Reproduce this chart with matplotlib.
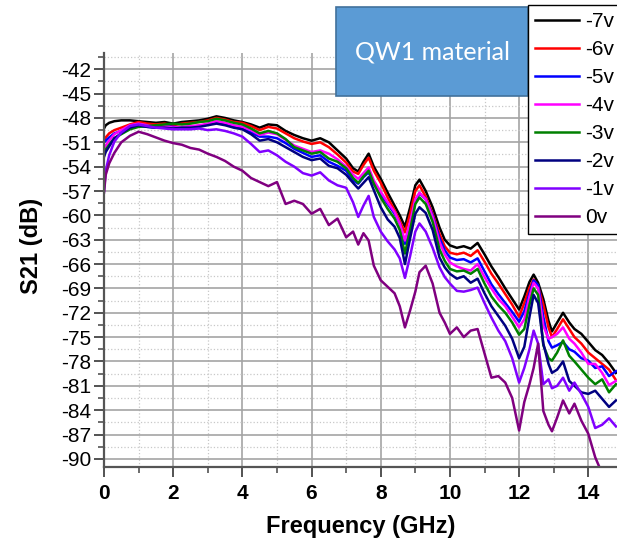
import numpy as np
import matplotlib
matplotlib.use("Agg")
from matplotlib import pyplot as plt
from matplotlib.ticker import MultipleLocator
from matplotlib.patches import Rectangle

plt.rcParams['font.family'] = ['Liberation Sans', 'DejaVu Sans']
plt.rcParams['axes.unicode_minus'] = False

# frequency points (GHz)
freq = [0, 0.05, 0.15, 0.3, 0.5,
        0.75, 1.0, 1.25, 1.5, 1.75, 2.0, 2.25, 2.5, 2.75, 3.0, 3.25, 3.5, 3.75,
        4.0, 4.25, 4.5, 4.75, 5.0, 5.25, 5.5, 5.75, 6.0, 6.25, 6.5, 6.75, 7.0,
        7.2, 7.35, 7.5, 7.65, 7.8,
        8.0, 8.2, 8.4, 8.55, 8.7, 8.85, 9.0, 9.12, 9.3, 9.5, 9.7, 9.85,
        10.0, 10.2, 10.4, 10.6, 10.8, 11.0, 11.2, 11.4, 11.6, 11.8,
        12.0, 12.15, 12.3, 12.42, 12.55, 12.7, 12.85, 12.95,
        13.1, 13.27, 13.45, 13.6, 13.8, 14.0, 14.2, 14.4, 14.6, 14.8]

s21_m7 = [-49.3, -48.9, -48.6, -48.4, -48.3,
          -48.3, -48.4, -48.5, -48.6, -48.5, -48.7, -48.5, -48.4, -48.3, -48.1, -47.8, -48.0, -48.3,
          -48.5, -48.8, -49.2, -48.8, -48.9, -49.6, -50.1, -50.5, -50.8, -50.5, -51.0, -52.0, -53.0,
          -54.2, -54.6, -53.4, -52.4, -54.0,
          -55.5, -57.2, -58.8, -60.0, -61.4, -59.0, -56.3, -55.6, -57.0, -59.0, -61.5, -63.0,
          -63.7, -64.0, -63.8, -64.1, -63.4, -64.8, -66.3, -67.6, -69.0, -70.3,
          -71.6, -70.0, -68.2, -67.3, -68.3, -70.3, -73.0, -74.3,
          -73.2, -72.0, -73.2, -74.0, -74.6, -75.6, -76.6, -77.2, -78.2, -79.4]

s21_m6 = [-51.0, -50.4, -49.9, -49.5, -49.2,
          -48.8, -48.5, -48.7, -48.8, -48.7, -48.9, -48.7, -48.6, -48.5, -48.3, -48.0, -48.2, -48.5,
          -48.6, -49.0, -49.5, -49.1, -49.3, -49.9, -50.5, -50.9, -51.2, -51.0, -51.6, -52.5, -53.5,
          -54.6, -54.9, -53.8, -52.9, -54.5,
          -56.0, -57.8, -59.4, -60.7, -62.1, -59.8, -57.0, -56.3, -57.7, -59.8, -62.3, -63.8,
          -64.6, -64.8, -64.6, -65.0, -64.3, -65.7, -67.2, -68.4, -69.7, -71.0,
          -72.5, -70.8, -68.9, -67.9, -68.8, -71.0, -73.8, -75.0,
          -74.0, -72.8, -74.0, -75.0, -75.8, -76.9, -77.6, -78.3, -79.0, -80.3]

s21_m5 = [-51.0, -50.8, -50.4, -49.9, -49.6,
          -49.2, -49.0, -49.1, -49.2, -49.0, -49.1, -49.2, -49.1, -49.0, -48.8, -48.5, -48.7, -49.0,
          -49.3, -49.8, -50.3, -50.3, -50.5, -51.1, -51.8, -52.3, -52.8, -52.6, -53.4, -53.9, -54.5,
          -55.7, -56.1, -55.3, -54.7, -56.1,
          -57.4, -58.6, -59.8, -61.0, -63.5, -61.2, -58.2, -57.3, -58.0, -60.0, -62.8, -64.3,
          -65.2, -65.5, -65.4, -65.8, -65.3, -66.9, -68.5, -69.7, -70.8, -71.9,
          -73.1, -71.8, -69.6, -68.0, -68.6, -72.5, -75.5, -76.3,
          -76.0, -75.6, -76.5, -76.8, -77.6, -77.9, -78.8, -78.6, -79.8, -79.2]

s21_m4 = [-51.8, -51.4, -50.8, -50.0, -49.5,
          -48.9, -48.7, -48.9, -49.1, -49.0, -49.2, -49.1, -49.0, -48.9, -48.7, -48.4, -48.6, -48.9,
          -49.1, -49.5, -50.1, -49.8, -50.0, -50.7, -51.4, -51.8, -52.2, -52.0, -52.4, -53.1, -54.0,
          -55.0, -55.5, -54.8, -54.1, -55.7,
          -57.1, -58.4, -59.6, -61.0, -63.1, -60.8, -58.0, -57.2, -58.0, -60.2, -63.3, -64.8,
          -65.8, -66.3, -66.6, -66.8, -66.0, -67.6, -69.0, -70.3, -71.2, -72.5,
          -73.8, -72.8, -70.0, -68.3, -69.0, -73.6, -75.2, -75.0,
          -74.6, -73.8, -75.2, -75.8, -76.9, -78.3, -78.3, -79.4, -80.9, -80.4]

s21_m3 = [-52.4, -51.9, -51.3, -50.5, -50.0,
          -49.4, -49.1, -49.0, -48.9, -48.8, -48.7, -48.8, -48.7, -48.5, -48.4, -48.1, -48.3, -48.6,
          -48.8, -49.3, -49.9, -49.6, -49.9, -50.6, -51.6, -52.0, -52.4, -52.2, -53.0, -53.4, -54.2,
          -55.4, -56.0, -55.2, -54.5, -56.1,
          -57.8, -59.2, -60.4, -61.8, -64.7, -61.8, -58.6, -57.8, -58.6, -60.8, -64.2, -65.6,
          -66.6, -66.9, -66.8, -67.2, -66.6, -68.4, -70.0, -71.1, -72.0, -73.2,
          -74.7, -74.0, -71.0, -69.0, -69.8, -76.0, -77.6, -77.9,
          -76.9, -75.4, -77.3, -78.0, -79.0, -80.0, -80.8, -80.2, -81.8, -80.8]

s21_m2 = [-52.8, -52.2, -51.5, -50.5, -49.9,
          -49.2, -48.9, -49.1, -49.2, -49.2, -49.3, -49.2, -49.2, -49.1, -48.9, -48.7, -48.9, -49.2,
          -49.4, -50.0, -50.8, -50.6, -51.0, -51.6, -52.2, -52.8, -53.2, -53.0, -53.9, -54.2, -55.0,
          -56.0, -56.7, -56.0, -55.3, -56.9,
          -59.0, -60.5, -61.4, -62.8, -66.0, -62.8, -59.8, -59.0, -59.7, -61.8, -65.2, -66.4,
          -67.2, -67.8, -67.5, -68.3, -67.8, -69.6, -71.2, -72.4, -73.6, -75.2,
          -77.6, -76.2, -72.5, -69.8, -70.8, -75.8, -78.3, -79.4,
          -79.0, -78.0, -80.4, -81.0, -81.8, -82.0, -81.6, -82.6, -83.6, -82.8]

s21_m1 = [-57.0, -54.5, -52.6, -50.9, -49.8,
          -49.0, -48.8, -49.0, -49.2, -49.3, -49.4, -49.4, -49.4, -49.3, -49.5, -49.4, -49.6, -49.9,
          -50.3, -51.2, -52.2, -52.0, -52.6, -53.4, -54.0, -54.8, -55.1, -54.7, -55.7, -56.3, -56.6,
          -58.4, -60.2, -58.8, -57.6, -60.2,
          -62.0, -63.2, -64.2, -65.3, -67.7, -65.0, -62.0, -61.0, -62.0, -64.0, -66.4, -67.6,
          -68.4, -69.3, -69.4, -69.2, -68.9, -70.8, -72.6, -74.2, -75.5, -77.6,
          -80.6, -78.8, -76.5, -74.2, -75.8, -80.8, -80.2, -81.3,
          -81.0, -80.0, -81.6, -80.6, -82.0, -83.6, -86.2, -85.8, -85.0, -86.0]

s21_0 = [-57.2, -55.0, -53.6, -52.3, -51.0,
         -50.2, -49.7, -50.0, -50.4, -50.8, -51.1, -51.3, -51.7, -51.9, -52.4, -52.8, -53.3, -54.0,
         -54.5, -55.4, -55.9, -56.4, -55.9, -58.6, -58.2, -58.6, -59.8, -59.2, -61.2, -60.4, -62.7,
         -62.0, -63.6, -62.2, -63.1, -66.2,
         -68.0, -68.8, -69.6, -71.2, -73.8, -71.7, -69.4, -67.0, -66.2, -68.4, -72.0, -73.2,
         -74.6, -73.8, -75.0, -74.2, -74.0, -77.0, -80.0, -79.8, -80.6, -82.5,
         -86.5, -83.0, -80.8, -78.8, -75.8, -84.1, -85.8, -86.6,
         -84.9, -82.8, -84.4, -83.2, -85.3, -86.9, -89.8, -91.8, np.nan, np.nan]

labels = ['-7v', '-6v', '-5v', '-4v', '-3v', '-2v', '-1v', '0v']
colors = ['#000000', '#ff0000', '#0000ff', '#ff00ff', '#008000', '#000080', '#8000ff', '#800080']
series = [s21_m7, s21_m6, s21_m5, s21_m4, s21_m3, s21_m2, s21_m1, s21_0]

W, H = 617, 552
fig = plt.figure(figsize=(W / 100, H / 100), dpi=100)
ax = fig.add_axes([104 / W, 1 - 467 / H, 1 - 104 / W, (467 - 53) / H])

lines = []
for ys, c, lab in zip(series, colors, labels):
    ln, = ax.plot(freq, ys, color=c, lw=1.8, label=lab)
    lines.append(ln)

ax.set_xlim(0, 14.83)
ax.set_ylim(-91, -40)
ax.xaxis.set_major_locator(MultipleLocator(2))
ax.xaxis.set_minor_locator(MultipleLocator(1))
ax.set_yticks(np.arange(-90, -41, 3))
ax.yaxis.set_minor_locator(MultipleLocator(1.5))

ax.grid(which='major', color='#a4a4a4', lw=1.2, ls='-')
ax.grid(which='minor', color='#c8c8c8', lw=0.9, ls=':')
ax.set_axisbelow(True)

for side in ['top', 'right']:
    ax.spines[side].set_visible(False)
for side in ['left', 'bottom']:
    ax.spines[side].set_color('#555555')
    ax.spines[side].set_linewidth(1.6)

ax.tick_params(which='major', direction='out', length=7, width=1.3, color='#444444')
ax.tick_params(which='minor', direction='out', length=4, width=1.1, color='#444444')
ax.tick_params(axis='y', labelsize=15, pad=2)
ax.tick_params(axis='x', labelsize=15, pad=5)
for t in ax.get_xticklabels():
    t.set_fontweight('bold')

ax.set_xlabel('Frequency (GHz)', fontsize=17, fontweight='bold', labelpad=9)
ax.set_ylabel('S21 (dB)', fontsize=17, fontweight='bold')
ax.yaxis.set_label_coords(-0.118, 0.535)

# text box
fig.patches.append(Rectangle((336 / W, 1 - 96 / H), (528 - 336) / W, (96 - 7) / H,
                             transform=fig.transFigure, facecolor='#5b9bd5',
                             edgecolor='#41719c', lw=1.2, zorder=5))
fig.text(432 / W, 1 - 52 / H, 'QW1 material', color='white', fontsize=18,
         family=['Lato', 'DejaVu Sans'], ha='center', va='center', zorder=6)

leg = fig.legend(handles=lines, loc='upper left', bbox_to_anchor=(528 / W, 1 - 5 / H),
                 fontsize=15, handlelength=2.1, handletextpad=0.3, labelspacing=0.43,
                 borderpad=0.35, borderaxespad=0, fancybox=False, framealpha=1,
                 edgecolor='black')
leg.get_frame().set_linewidth(1.0)
leg.set_zorder(7)

fig.savefig('out.png', dpi=100)
